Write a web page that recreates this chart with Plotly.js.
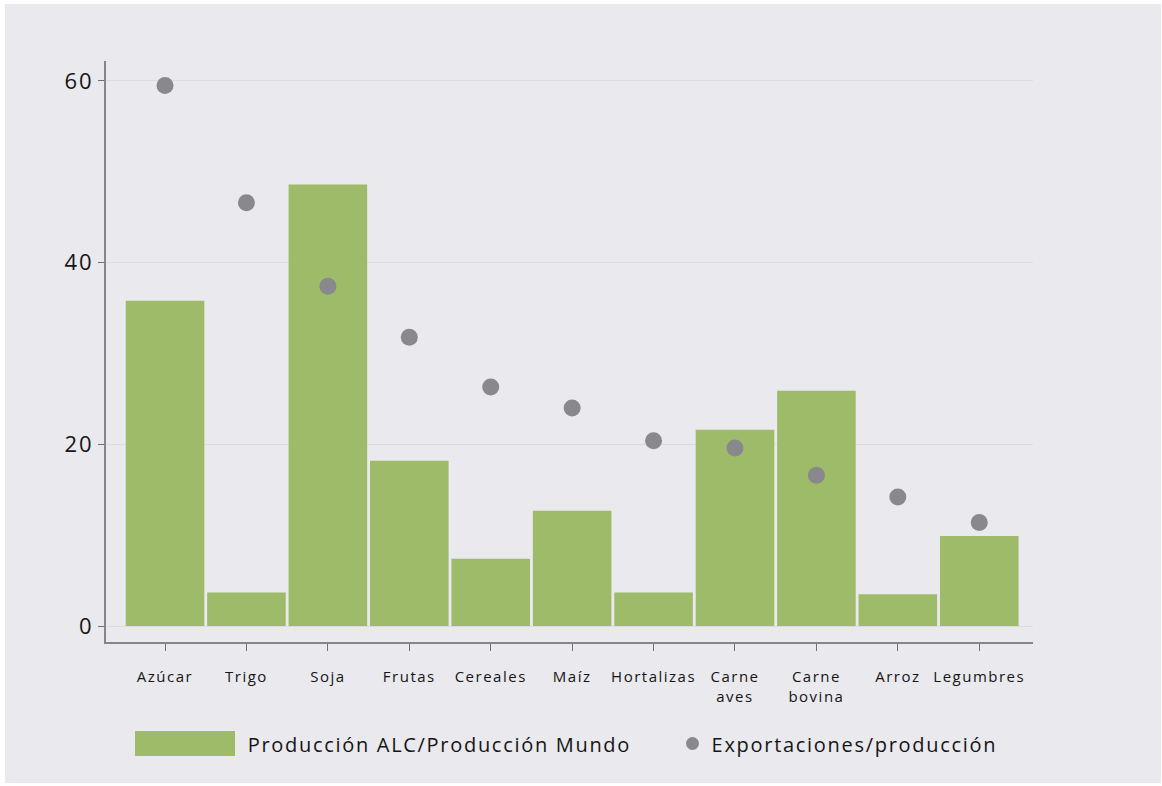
<!DOCTYPE html>
<html>
<head>
<meta charset="utf-8">
<script src="https://cdn.plot.ly/plotly-3.0.1.min.js"></script>
<style>
  html, body { margin: 0; padding: 0; background: #ffffff; }
  #chart { position: absolute; left: 5px; top: 4px; width: 1156px; height: 779px; }
  /* looser tracking for the axis and key labels */
  #chart .xtick text { letter-spacing: 1.5px; }
  #chart .ytick text { letter-spacing: 2px; }
  #chart .annotation-text { letter-spacing: 1.7px; }
</style>
</head>
<body>
<div id="chart"></div>
<script>
// Categorías de productos
const categories = ["Azúcar", "Trigo", "Soja", "Frutas", "Cereales", "Maíz",
                    "Hortalizas", "Carne<br>aves", "Carne<br>bovina", "Arroz", "Legumbres"];
// Producción ALC / Producción Mundo (%)
const produccionALC = [35.8, 3.7, 48.6, 18.2, 7.4, 12.7, 3.7, 21.6, 25.9, 3.5, 9.9];
// Exportaciones / producción (%)
const exportaciones = [59.5, 46.6, 37.4, 31.8, 26.3, 24.0, 20.4, 19.6, 16.6, 14.2, 11.4];
const yTicks = [0, 20, 40, 60];
const legendLabels = ["Producción ALC/Producción Mundo", "Exportaciones/producción"];

const green = "#9dbb68";
const grey = "#88888d";
const font = "Open Sans, Noto Sans, sans-serif";
const ink = "#151515";

// plot-area pixel frame, used to place the key below the axis
const px = { left: 106, width: 927, bottom: 642, height: 581 };
const fx = (p) => (p - px.left) / px.width;
const fy = (p) => -(p - px.bottom) / px.height;

const traces = [
  {
    type: "bar",
    x: categories,
    y: produccionALC,
    name: legendLabels[0],
    marker: { color: green, line: { width: 0 } },
    hoverinfo: "x+y"
  },
  {
    type: "scatter",
    mode: "markers",
    x: categories,
    y: exportaciones,
    name: legendLabels[1],
    marker: { color: grey, size: 17, line: { width: 0 } },
    hoverinfo: "x+y"
  }
];

const layout = {
  width: 1156,
  height: 779,
  margin: { l: 101, r: 128, t: 57, b: 141 },
  paper_bgcolor: "#eae9ee",
  plot_bgcolor: "#eae9ee",
  showlegend: false,
  bargap: 0.035,
  font: { family: font, color: ink },
  xaxis: {
    type: "category",
    range: [-0.725, 10.66],
    showgrid: false,
    zeroline: false,
    showline: true,
    linecolor: "#85858b",
    linewidth: 2,
    ticks: "outside",
    ticklen: 7,
    tickwidth: 1,
    tickcolor: "#6f6f74",
    ticklabelstandoff: 13,
    tickfont: { size: 15, color: ink, family: font }
  },
  yaxis: {
    range: [-1.76, 62.2],
    tickvals: yTicks,
    ticktext: yTicks.map(String),
    showgrid: true,
    gridcolor: "#dcdbe1",
    gridwidth: 1,
    zeroline: false,
    showline: true,
    linecolor: "#85858b",
    linewidth: 2,
    ticks: "outside",
    ticklen: 6,
    tickwidth: 1,
    tickcolor: "#6f6f74",
    ticklabelstandoff: 0,
    tickfont: { size: 22, color: ink, family: font }
  },
  shapes: [
    // key swatch for the bars
    { type: "rect", xref: "paper", yref: "paper",
      x0: fx(135), x1: fx(235), y0: fy(731), y1: fy(756),
      fillcolor: green, line: { width: 0 } },
    // key marker for the points
    { type: "circle", xref: "paper", yref: "paper",
      x0: fx(686), x1: fx(699), y0: fy(737), y1: fy(750),
      fillcolor: grey, line: { width: 0 } }
  ],
  annotations: [
    { xref: "paper", yref: "paper", x: fx(439), y: fy(744),
      xanchor: "center", yanchor: "middle", showarrow: false,
      text: legendLabels[0], font: { size: 20, color: ink, family: font } },
    { xref: "paper", yref: "paper", x: fx(854), y: fy(744),
      xanchor: "center", yanchor: "middle", showarrow: false,
      text: legendLabels[1], font: { size: 20, color: ink, family: font } }
  ]
};

Plotly.newPlot("chart", traces, layout, { displayModeBar: false, staticPlot: true });
</script>
</body>
</html>
